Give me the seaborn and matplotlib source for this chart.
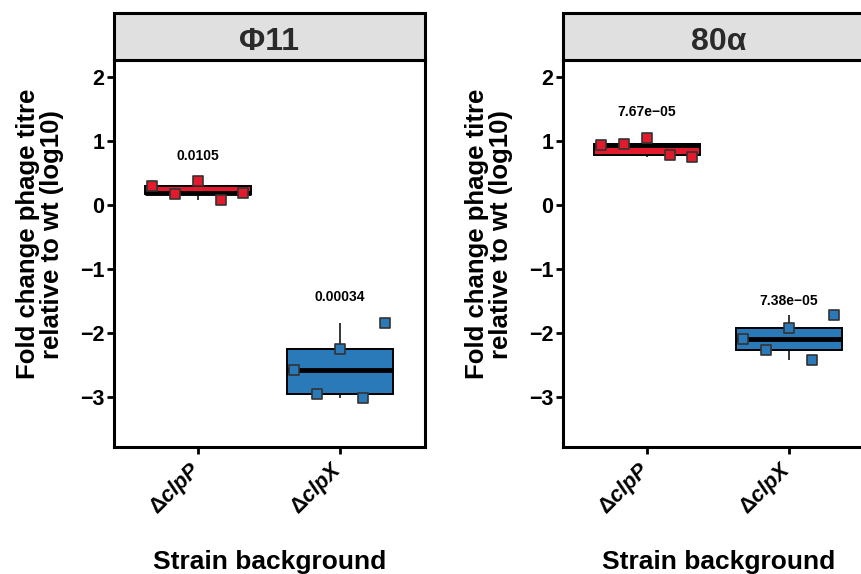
import matplotlib
matplotlib.use("Agg")
import matplotlib.pyplot as plt
from matplotlib.patches import Rectangle
import seaborn as sns
import pandas as pd

sns.set_theme(style="white")
plt.rcParams["font.family"] = ["Liberation Sans", "DejaVu Sans"]
plt.rcParams["font.weight"] = "bold"
plt.rcParams["axes.labelweight"] = "bold"
plt.rcParams["mathtext.fontset"] = "custom"
plt.rcParams["mathtext.rm"] = "Liberation Sans:bold"
plt.rcParams["mathtext.bf"] = "Liberation Sans:bold"
plt.rcParams["mathtext.it"] = "Liberation Sans:bold:italic"

# ---- data ----
phages = ["Φ11", "80α"]
strains = ["ΔclpP", "ΔclpX"]
strain_ticklabels = [r"$\mathbf{\Delta}\mathit{clpP}$", r"$\mathbf{\Delta}\mathit{clpX}$"]
replicates = ["r1", "r2", "r3", "r4", "r5"]

phi11_clpP = [0.297, 0.177, 0.375, 0.089, 0.192]
phi11_clpX = [-2.578, -2.953, -2.255, -3.010, -1.840]
a80_clpP = [0.942, 0.964, 1.047, 0.792, 0.750]
a80_clpX = [-2.099, -2.261, -1.917, -2.417, -1.714]

pvalue_labels = {"Φ11": ["0.0105", "0.00034"], "80α": ["7.67e\u221205", "7.38e\u221205"]}
pvalue_y = {"Φ11": [0.77, -1.44], "80α": [1.46, -1.50]}

yticks = [-3, -2, -1, 0, 1, 2]
colors = {"ΔclpP": "#E31A2C", "ΔclpX": "#2A79B8"}

rows = []
for phage, series in zip(phages, [(phi11_clpP, phi11_clpX), (a80_clpP, a80_clpX)]):
    for strain, vals in zip(strains, series):
        for rep, v in zip(replicates, vals):
            rows.append({"phage": phage, "strain": strain, "rep": rep, "value": v})
df = pd.DataFrame(rows)

W, H = 862, 574
fig = plt.figure(figsize=(W / 100, H / 100), dpi=100)

panel_lefts = [114, 563]
ax_w, ax_top, ax_bot = 311, 60, 447
strip_h = 47
ax_h = ax_bot - ax_top

for phage, left in zip(phages, panel_lefts):
    ax = fig.add_axes([left / W, (H - ax_bot) / H, ax_w / W, ax_h / H])
    sub = df[df.phage == phage]
    sns.boxplot(data=sub, x="strain", y="value", hue="strain", order=strains,
                hue_order=strains, palette=colors, dodge=False, width=0.75,
                saturation=1, showcaps=False, showfliers=False, legend=False,
                linecolor="black", linewidth=1.4,
                medianprops={"linewidth": 3.5, "color": "black"},
                whiskerprops={"linewidth": 1.1}, ax=ax)
    for strain in strains:
        s2 = sub[sub.strain == strain]
        sns.stripplot(data=s2, x="strain", y="value", hue="rep", order=strains,
                      hue_order=replicates, palette=[colors[strain]] * len(replicates),
                      dodge=True, jitter=False, marker="s", size=7.5,
                      linewidth=1.2, edgecolor="#333333", legend=False, ax=ax, zorder=5)
    for i, (lab, yv) in enumerate(zip(pvalue_labels[phage], pvalue_y[phage])):
        ax.text(i, yv, lab, ha="center", va="center", fontsize=10, fontweight="bold",
                color="black")

    ax.set_xlim(-0.59, 1.6)
    ax.set_ylim(-3.78, 2.27)
    ax.set_yticks(yticks)
    ax.set_yticklabels([f"{t}".replace("-", "\u2212") for t in yticks],
                       fontsize=15.5, fontweight="bold", color="black")
    ax.set_xticks(range(len(strains)))
    ax.set_xticklabels(strain_ticklabels, rotation=45, ha="right", va="center",
                       rotation_mode="anchor",
                       fontsize=15.5, fontweight="bold", color="black")
    ax.tick_params(axis="both", direction="out", length=5, width=2, color="black",
                   left=True, bottom=True, pad=2)
    ax.tick_params(axis="x", pad=9)
    for sp in ax.spines.values():
        sp.set_visible(True)
        sp.set_color("black")
        sp.set_linewidth(2.2)
    ax.set_xlabel("Strain background", fontsize=19, fontweight="bold", color="black")
    ax.xaxis.set_label_coords(0.5, -0.266)
    ax.set_ylabel("Fold change phage titre\nrelative to wt (log10)", fontsize=18.5,
                  fontweight="bold", color="black", linespacing=1.0)
    ax.yaxis.set_label_coords(-0.16, 0.55)

    rect = Rectangle((0, 1), 1, strip_h / ax_h, transform=ax.transAxes,
                     facecolor="#DFE0DF", edgecolor="black", linewidth=2.2,
                     clip_on=False, zorder=3)
    ax.add_patch(rect)
    ax.text(0.5, 1 + (strip_h / 2 - 6) / ax_h, phage, transform=ax.transAxes,
            ha="center", va="center", fontsize=23, fontweight="bold", color="#2a2a2a",
            zorder=4)

fig.savefig("out.png", dpi=100)
